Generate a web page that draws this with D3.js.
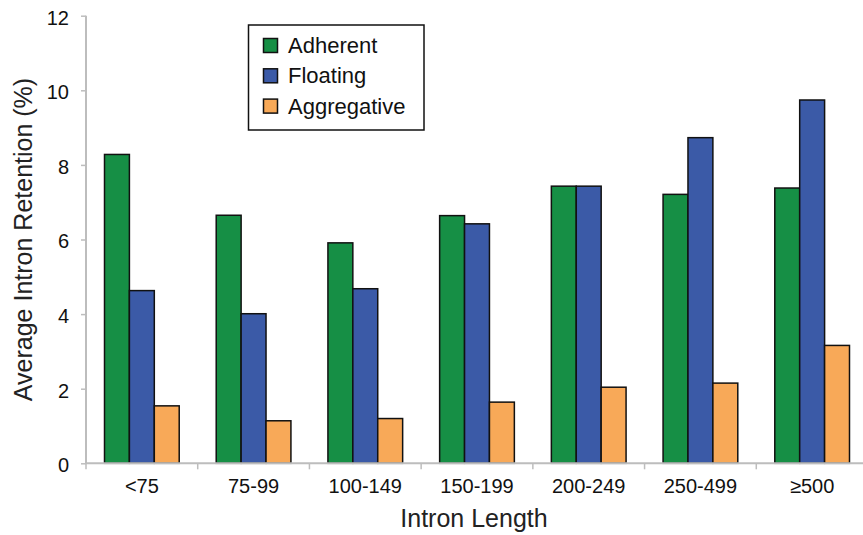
<!DOCTYPE html>
<html>
<head>
<meta charset="utf-8">
<script src="https://cdn.jsdelivr.net/npm/d3@7"></script>
<style>
  html, body { margin: 0; padding: 0; background: #fff; }
  svg { display: block; font-family: Arial, "Liberation Sans", sans-serif; }
</style>
</head>
<body>
<svg id="chart" width="863" height="535"></svg>
<script>
// Intron length bins and average retention (%) per culture condition
const categories = ["<75", "75-99", "100-149", "150-199", "200-249", "250-499", "\u2265500"];
const seriesNames = ["Adherent", "Floating", "Aggregative"];
const adherent    = [8.28, 6.65, 5.91, 6.64, 7.43, 7.21, 7.38];
const floating    = [4.63, 4.01, 4.68, 6.42, 7.43, 8.73, 9.74];
const aggregative = [1.54, 1.14, 1.20, 1.64, 2.04, 2.15, 3.16];
const yTicks = [0, 2, 4, 6, 8, 10, 12];
const colors = ["#168f45", "#3b5aa7", "#f8a958"];

const values = [adherent, floating, aggregative];
const rows = categories.map((c, i) => ({
  cat: c,
  vals: seriesNames.map((s, k) => ({ series: s, value: values[k][i], color: colors[k] }))
}));

const svg = d3.select("#chart");
const plotLeft = 86, plotRight = 868, plotTop = 15.7, plotBottom = 463.3;

const x0 = d3.scaleBand().domain(categories).range([plotLeft, plotRight]).padding(0);
const x1 = d3.scaleBand().domain(seriesNames)
  .range([18.5, x0.bandwidth() - 18.5]).padding(0);
const y = d3.scaleLinear().domain([0, 12]).range([plotBottom, plotTop]);

// Bars
const groups = svg.append("g").selectAll("g").data(rows).join("g")
  .attr("transform", d => `translate(${x0(d.cat)},0)`);
groups.selectAll("rect").data(d => d.vals).join("rect")
  .attr("x", d => x1(d.series))
  .attr("y", d => y(d.value))
  .attr("width", x1.bandwidth())
  .attr("height", d => y(0) - y(d.value))
  .attr("fill", d => d.color)
  .attr("stroke", "#111")
  .attr("stroke-width", 1.5);

// Y axis
const yAxis = svg.append("g").attr("transform", `translate(${plotLeft},0)`)
  .call(d3.axisLeft(y).tickValues(yTicks).tickFormat(d3.format("d"))
    .tickSize(5).tickPadding(12));
yAxis.select(".domain").attr("stroke", "#bdbdbd").attr("stroke-width", 2)
  .attr("d", `M0,${plotTop}V${plotBottom}`);
yAxis.selectAll(".tick line").attr("stroke", "#bdbdbd").attr("stroke-width", 1.5);
yAxis.selectAll(".tick text").attr("font-size", 20).attr("fill", "#111")
  .attr("font-family", "Arial, 'Liberation Sans', sans-serif").attr("dy", "0.42em");

// X axis with ticks at bin boundaries
const xAxisG = svg.append("g").attr("transform", `translate(0,${plotBottom})`);
xAxisG.append("line").attr("x1", plotLeft).attr("x2", plotRight)
  .attr("stroke", "#bdbdbd").attr("stroke-width", 2);
xAxisG.selectAll("line.tk").data(categories).join("line").attr("class", "tk")
  .attr("x1", d => x0(d)).attr("x2", d => x0(d))
  .attr("y1", 0).attr("y2", 6)
  .attr("stroke", "#bdbdbd").attr("stroke-width", 1.5);
xAxisG.selectAll("text").data(categories).join("text")
  .attr("x", d => x0(d) + x0.bandwidth() / 2)
  .attr("y", 30)
  .attr("text-anchor", "middle")
  .attr("font-size", 20).attr("fill", "#111")
  .text(d => d);

// Axis titles
svg.append("text")
  .attr("x", (plotLeft + plotRight) / 2 - 3).attr("y", 527)
  .attr("text-anchor", "middle").attr("font-size", 25).attr("fill", "#222")
  .text("Intron Length");
svg.append("text")
  .attr("transform", `translate(32,${(plotTop + plotBottom) / 2}) rotate(-90)`)
  .attr("text-anchor", "middle").attr("font-size", 25).attr("fill", "#222")
  .text("Average Intron Retention (%)");

// Legend
const legend = svg.append("g");
legend.append("rect").attr("x", 248.5).attr("y", 25).attr("width", 175.5).attr("height", 105)
  .attr("fill", "#fff").attr("stroke", "#111").attr("stroke-width", 1.5);
const items = legend.selectAll("g.item").data(seriesNames).join("g").attr("class", "item")
  .attr("transform", (d, i) => `translate(0,${38.5 + i * 30.3})`);
items.append("rect").attr("x", 263.5).attr("y", 0).attr("width", 14).attr("height", 14)
  .attr("fill", (d, i) => colors[i]).attr("stroke", "#111").attr("stroke-width", 1.5);
items.append("text").attr("x", 288).attr("y", 14.5)
  .attr("font-size", 22).attr("fill", "#111").text(d => d);
</script>
</body>
</html>
